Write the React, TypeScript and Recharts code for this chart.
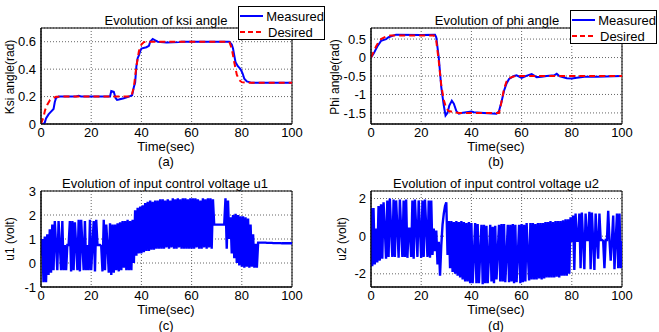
import { LineChart, Line, XAxis, YAxis, CartesianGrid, ReferenceArea } from "recharts"

const FONT = '"Liberation Sans", Arial, sans-serif'

// time axis ticks shared by all four panels
const timeTicks = [0, 20, 40, 60, 80, 100]

// (a) ksi angle, [time, rad]
const ksiMeasured = [
  [0, 0], [1, 0], [1.5, 0.01], [2, 0.04], [3, 0.07], [4, 0.09], [5, 0.11], [5.5, 0.16], [6, 0.19], [7, 0.2],
  [14, 0.2], [15, 0.205], [16, 0.2], [27.5, 0.2], [28, 0.24], [29, 0.235], [29.7, 0.19], [30.3, 0.175], [31, 0.178],
  [33, 0.188], [35, 0.2], [36.3, 0.21], [37, 0.27], [37.5, 0.3], [38, 0.42], [38.5, 0.48], [39, 0.5], [39.5, 0.53],
  [40, 0.55], [42, 0.56], [43, 0.57], [43.5, 0.6], [44.5, 0.62], [45.5, 0.61], [46.5, 0.6], [50, 0.595], [55, 0.597],
  [56, 0.6], [75, 0.6], [76, 0.58], [76.5, 0.55], [77, 0.5], [77.5, 0.45], [78.5, 0.42], [79.5, 0.4], [80.3, 0.37],
  [81, 0.33], [82, 0.31], [84, 0.3], [100, 0.3],
]
const ksiDesired = [
  [0, 0], [1, 0.05], [1.6, 0.1], [2.5, 0.14], [3.6, 0.175], [5, 0.19], [6, 0.198], [8, 0.2], [36, 0.2], [37, 0.27],
  [38, 0.42], [39, 0.53], [40, 0.58], [41, 0.597], [42, 0.6], [75, 0.6], [76, 0.55], [77, 0.45], [78, 0.36],
  [79, 0.32], [80, 0.305], [82, 0.3], [100, 0.3],
]
const ksiTicks = [0, 0.2, 0.4, 0.6]

// (b) phi angle, [time, rad]
const phiMeasured = [
  [0, 0], [1, 0.1], [2.5, 0.3], [4, 0.45], [6, 0.5], [7, 0.55], [9, 0.6], [10, 0.62], [20, 0.61], [25.5, 0.62],
  [26, 0.55], [27, 0.0], [28, -0.8], [29, -1.3], [29.7, -1.57], [30.5, -1.5], [31.2, -1.3], [32.2, -1.17], [33, -1.25],
  [34, -1.45], [35, -1.52], [36, -1.5], [40, -1.46], [41, -1.48], [45, -1.5], [50, -1.52], [51, -1.45], [52, -1.2],
  [53, -0.9], [54, -0.7], [55, -0.58], [57, -0.5], [58, -0.48], [60, -0.55], [61, -0.52], [63, -0.47], [64, -0.45],
  [66, -0.53], [68, -0.52], [70, -0.5], [73, -0.48], [74, -0.44], [75, -0.5], [78, -0.56], [80, -0.57], [82, -0.55],
  [85, -0.52], [90, -0.52], [100, -0.5],
]
const phiDesired = [
  [0, 0], [1, 0.15], [2, 0.3], [3, 0.42], [4, 0.5], [6, 0.57], [8, 0.6], [25, 0.6], [26, 0.45], [27, -0.1],
  [28, -0.75], [29, -1.15], [30, -1.38], [31, -1.45], [33, -1.48], [35, -1.5], [51, -1.5], [52, -1.2], [53, -0.85],
  [54, -0.65], [55, -0.56], [57, -0.51], [60, -0.5], [100, -0.5],
]
const phiTicks = [-1.5, -1, -0.5, 0, 0.5]

// (c)/(d) control voltages, one sample every 0.5 s from 0 to 100 s
const U_STEP = 0.5
const u1Volt = [
  0.3, 1.0, -0.8, 1.1, -0.8, 1.2, -0.5, 1.4, -0.4, 1.6, -0.3, 1.75, 0.75, -0.3, 1.75, 0.75, -0.3, 1.75, -0.3, 0.75,
  -0.3, 0.75, 0.75, 1.75, -0.35, 1.75, -0.3, 1.7, 0.75, -0.3, 1.8, -0.35, 1.8, 0.75, -0.3, 1.75, -0.3, 0.75, -0.3, 1.8,
  -0.3, 0.75, 1.75, -0.35, 1.8, 0.75, 0.75, 0.75, 0.7, -0.35, 1.8, -0.3, 1.6, 0.7, -0.4, 1.65, -0.5, 1.6, -0.4, 1.6,
  -0.3, 1.65, -0.35, 1.7, -0.3, 1.75, -0.2, 1.75, -0.3, 1.8, -0.3, 1.75, -0.3, 1.8, 0.0, 2.2, 0.3, 2.3, 0.4, 2.35,
  0.4, 2.4, 0.45, 2.5, 0.5, 2.55, 0.5, 2.6, 0.55, 2.55, 0.55, 2.6, 0.6, 2.6, 0.6, 2.65, 0.6, 2.65, 0.6, 2.6,
  0.65, 2.65, 0.6, 2.6, 0.65, 2.7, 0.6, 2.65, 0.6, 2.7, 0.65, 2.65, 0.6, 2.7, 0.6, 2.7, 0.6, 2.65, 0.6, 2.7,
  0.6, 2.7, 0.6, 2.7, 0.65, 2.65, 0.6, 2.6, 0.6, 2.7, 0.65, 2.65, 0.6, 2.7, 0.65, 2.7, 0.6, 2.65, 1.6, 1.6,
  1.6, 1.6, 1.6, 1.6, 1.6, 1.6, 1.6, 2.7, 0.6, 2.6, 1.0, 1.9, 0.4, 2.0, 0.2, 2.05, 0.0, 2.0, -0.1, 1.95,
  -0.15, 1.95, -0.2, 1.9, -0.15, 1.85, -0.2, 1.6, -0.15, 1.2, -0.2, 0.8, -0.2, 0.85, 0.85, 0.85, 0.85, 0.85, 0.85, 0.85,
  0.84, 0.84, 0.84, 0.84, 0.84, 0.83, 0.83, 0.83, 0.83, 0.83, 0.83, 0.83, 0.82, 0.82, 0.82, 0.82, 0.82, 0.82, 0.82, 0.82,
  0.82,
]
const u2Volt = [
  1.5, -1.6, 1.5, -1.5, 0.4, -1.4, 1.6, -1.3, 1.7, -1.2, 1.8, 0.4, -1.2, 1.9, -1.1, 2.0, 0.4, -1.1, 1.95, -1.1,
  1.9, 0.45, -1.15, 1.95, 0.4, -1.1, 1.9, -1.1, 1.95, -1.15, 0.4, 0.4, -1.1, 1.9, -1.2, 1.95, 0.4, -1.1, 1.9, 0.4,
  -1.15, 1.9, -1.1, 1.95, 0.45, -1.1, 1.9, -1.15, 1.9, -1.0, 0.4, -0.8, 0.3, -1.5, -0.3, -2.1, -0.5, 0.6, 1.2, 1.6,
  1.8, -1.0, 0.8, -1.7, 0.8, -1.9, 0.75, -2.0, 0.8, -2.1, 0.75, -2.2, 0.8, -2.3, 0.75, -2.4, 0.7, -2.4, 0.75, -2.5,
  0.7, -2.5, -1.0, 0.7, -2.5, 0.65, -2.5, -0.9, 0.6, -2.55, 0.6, -2.5, 0.55, -2.5, -1.0, 0.6, -2.4, 0.5, -2.5, 0.55,
  -2.3, -0.8, 0.6, -2.4, 0.65, -2.4, 0.65, -2.45, -1.0, 0.6, -2.45, 0.6, -2.4, 0.65, -2.5, 0.6, -2.45, -1.0, 0.6, -2.5,
  0.65, -2.45, 0.6, -2.4, 0.7, -1.0, -2.35, 0.7, -2.3, 0.7, -2.3, 0.65, -2.3, 0.7, -2.25, 0.7, -2.3, 0.7, -2.25, 0.75,
  -2.2, 0.75, -2.2, 0.8, -2.2, 0.75, -2.2, 0.8, -2.15, 0.8, -2.2, 0.8, -2.1, 0.85, -2.1, 0.9, -2.1, 0.9, -2.0, 1.0,
  -0.3, 1.1, -1.8, 1.2, -0.25, -0.25, 1.2, -1.7, 1.25, -0.2, -1.75, 1.2, -0.2, -0.2, 1.3, -1.75, 1.25, -0.25, -1.8, 1.2,
  -0.2, -1.2, 1.2, -0.2, -0.2, -0.25, -1.7, -0.2, -0.2, 1.35, -0.2, -1.3, -0.2, 1.1, -1.75, -0.2, 1.2, -1.7, 1.2, -1.7,
  -0.25,
]
const u1Ticks = [-1, 0, 1, 2, 3]
const u2Ticks = [-2, 0, 2]

const BLUE = "#0000ff"
const RED = "#ff0000"

const fromPairs = (pairs: number[][]) => pairs.map(([t, v]) => ({ t, v }))
const fromSamples = (vals: number[]) => vals.map((v, i) => ({ t: i * U_STEP, v }))

interface Series {
  data: { t: number; v: number }[]
  stroke: string
  width: number
  dash?: string
}

interface PanelProps {
  left: number
  top: number
  width: number
  marginTop: number
  marginBottom: number
  marginRight: number
  yDomain: [number, number]
  yTicks: number[]
  series: Series[]
}

function Panel({ left, top, width, marginTop, marginBottom, marginRight, yDomain, yTicks, series }: PanelProps) {
  const tick = { fill: "#000", fontSize: 13, fontFamily: FONT }
  return (
    <div style={{ position: "absolute", left, top }}>
      <LineChart
        width={width}
        height={166}
        margin={{ top: marginTop, right: marginRight, bottom: marginBottom, left: 0 }}
      >
        <CartesianGrid stroke="#666" strokeDasharray="1 2" />
        <XAxis
          dataKey="t"
          type="number"
          domain={[0, 100]}
          ticks={timeTicks}
          interval={0}
          height={20}
          tick={tick}
          tickLine={false}
          tickSize={0}
          tickMargin={4}
          axisLine={{ stroke: "#000" }}
          allowDataOverflow
        />
        <YAxis
          type="number"
          domain={yDomain}
          ticks={yTicks}
          interval={0}
          width={41}
          tick={tick}
          tickLine={false}
          tickSize={0}
          tickMargin={5}
          axisLine={{ stroke: "#000" }}
          allowDataOverflow
        />
        <ReferenceArea x1={0} x2={100} y1={yDomain[0]} y2={yDomain[1]} fill="none" stroke="#000" strokeWidth={1} />
        {series.map((s, i) => (
          <Line
            key={i}
            data={s.data}
            dataKey="v"
            type="linear"
            stroke={s.stroke}
            strokeWidth={s.width}
            strokeDasharray={s.dash}
            dot={false}
            isAnimationActive={false}
          />
        ))}
      </LineChart>
    </div>
  )
}

function Text({ x, y, children, rotate, size = 13 }: { x: number; y: number; children: string; rotate?: boolean; size?: number }) {
  return (
    <div
      style={{
        position: "absolute",
        left: x,
        top: y,
        transform: `translate(-50%, -50%)${rotate ? " rotate(-90deg)" : ""}`,
        whiteSpace: "nowrap",
        fontSize: size,
        fontFamily: FONT,
        color: "#000",
        lineHeight: 1,
      }}
    >
      {children}
    </div>
  )
}

function LegendBox({ left, top }: { left: number; top: number }) {
  const row = (color: string, dash: string | undefined, label: string) => (
    <div style={{ display: "flex", alignItems: "center", height: 16 }}>
      <svg width={26} height={6} style={{ marginRight: 3 }}>
        <line x1={1} y1={3} x2={25} y2={3} stroke={color} strokeWidth={2} strokeDasharray={dash} />
      </svg>
      <span>{label}</span>
    </div>
  )
  return (
    <div
      style={{
        position: "absolute",
        left,
        top,
        width: 87,
        height: 34,
        border: "1px solid #000",
        background: "#fff",
        fontSize: 13,
        fontFamily: FONT,
        lineHeight: 1,
        paddingTop: 1,
        boxSizing: "border-box",
      }}
    >
      {row(BLUE, undefined, "Measured")}
      {row(RED, "5 3", "Desired")}
    </div>
  )
}

export default function App() {
  return (
    <div style={{ position: "absolute", left: 0, top: 0, width: 659, height: 332, background: "#fff", overflow: "hidden" }}>
      <Panel
        left={0}
        top={0}
        width={330}
        marginTop={28}
        marginBottom={22}
        marginRight={38}
        yDomain={[0, 0.7]}
        yTicks={ksiTicks}
        series={[
          { data: fromPairs(ksiMeasured), stroke: BLUE, width: 2 },
          { data: fromPairs(ksiDesired), stroke: RED, width: 2, dash: "6 4" },
        ]}
      />
      <Panel
        left={330}
        top={0}
        width={329}
        marginTop={28}
        marginBottom={22}
        marginRight={37}
        yDomain={[-1.8, 0.8]}
        yTicks={phiTicks}
        series={[
          { data: fromPairs(phiMeasured), stroke: BLUE, width: 2 },
          { data: fromPairs(phiDesired), stroke: RED, width: 2, dash: "6 4" },
        ]}
      />
      <Panel
        left={0}
        top={166}
        width={330}
        marginTop={25}
        marginBottom={25}
        marginRight={38}
        yDomain={[-1, 3]}
        yTicks={u1Ticks}
        series={[{ data: fromSamples(u1Volt), stroke: BLUE, width: 2.4 }]}
      />
      <Panel
        left={330}
        top={166}
        width={329}
        marginTop={25}
        marginBottom={25}
        marginRight={37}
        yDomain={[-2.7, 2.4]}
        yTicks={u2Ticks}
        series={[{ data: fromSamples(u2Volt), stroke: BLUE, width: 2.4 }]}
      />

      <Text x={166} y={20}>Evolution of ksi angle</Text>
      <Text x={497} y={20}>Evolution of phi angle</Text>
      <Text x={165} y={183}>Evolution of input control voltage u1</Text>
      <Text x={496} y={183}>Evolution of input control voltage u2</Text>

      <Text x={10} y={77} rotate size={12}>Ksi angle(rad)</Text>
      <Text x={335} y={77} rotate size={12}>Phi angle(rad)</Text>
      <Text x={10} y={239} rotate size={12}>u1 (volt)</Text>
      <Text x={342} y={239} rotate size={12}>u2 (volt)</Text>

      <Text x={166} y={146}>Time(sec)</Text>
      <Text x={166} y={161}>(a)</Text>
      <Text x={496} y={146}>Time(sec)</Text>
      <Text x={496} y={161}>(b)</Text>
      <Text x={166} y={309}>Time(sec)</Text>
      <Text x={166} y={325}>(c)</Text>
      <Text x={496} y={309}>Time(sec)</Text>
      <Text x={496} y={325}>(d)</Text>

      <LegendBox left={238} top={6} />
      <LegendBox left={570} top={10} />
    </div>
  )
}
